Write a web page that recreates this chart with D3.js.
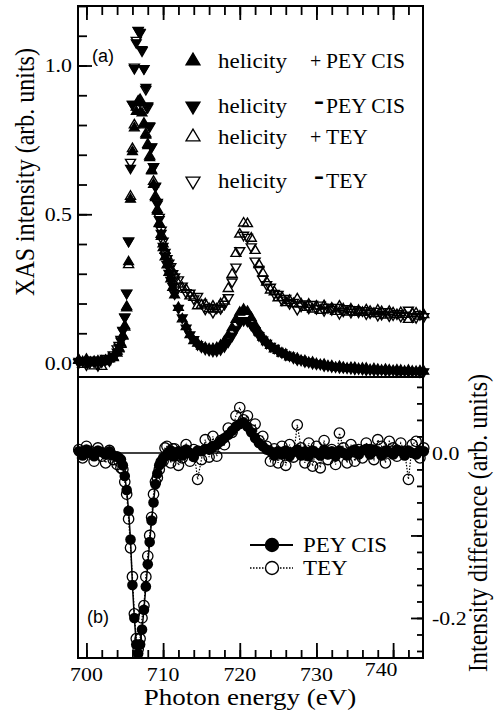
<!DOCTYPE html>
<html>
<head>
<meta charset="utf-8">
<script src="https://cdn.jsdelivr.net/npm/d3@7"></script>
<style>
body { margin: 0; background: #fff; }
</style>
</head>
<body>
<script>
// photon energy grid (eV), shared by all series
var energy = [699, 699.5, 700, 700.5, 701, 701.5, 702, 702.5, 703, 703.5, 704,
  704.25, 704.5, 704.75, 705, 705.25, 705.5, 705.75, 706, 706.25, 706.5, 706.75, 707, 707.25, 707.5, 707.75, 708, 708.25, 708.5, 708.75, 709,
  709.25, 709.5, 709.75, 710, 710.25, 710.5, 710.75, 711, 711.25, 711.5,
  712, 712.5, 713, 713.5, 714,
  714.5, 715, 715.5, 716, 716.5, 717, 717.5, 718, 718.5, 719,
  719.5, 720, 720.5, 721, 721.5, 722, 722.5, 723, 723.5, 724,
  724.5, 725, 725.5, 726, 726.5, 727, 727.5, 728, 728.5, 729,
  729.5, 730, 730.5, 731, 731.5, 732, 732.5, 733, 733.5, 734,
  734.5, 735, 735.5, 736, 736.5, 737, 737.5, 738, 738.5, 739,
  739.5, 740, 740.5, 741, 741.5, 742, 742.5, 743, 743.5, 744];

// (a) XAS, PEY CIS, helicity + / -
var peyPlus = [0.008, 0.004, 0.006, 0.002, 0.005, 0.003, 0.006, 0.009, 0.013, 0.02, 0.033,
  0.047, 0.066, 0.093, 0.125, 0.19, 0.34, 0.55, 0.71, 0.79, 0.845, 0.875, 0.88, 0.84, 0.8, 0.765, 0.73, 0.69, 0.645, 0.6, 0.555,
  0.51, 0.468, 0.425, 0.387, 0.356, 0.329, 0.304, 0.282, 0.254, 0.228,
  0.186, 0.148, 0.122, 0.095, 0.075,
  0.066, 0.056, 0.051, 0.047, 0.048, 0.051, 0.059, 0.073, 0.093, 0.118,
  0.146, 0.17, 0.18, 0.173, 0.152, 0.127, 0.104, 0.086, 0.071, 0.059,
  0.047, 0.042, 0.033, 0.029, 0.020, 0.018, 0.015, 0.008, 0.007, 0.001,
  0.002, -0.003, -0.006, -0.005, -0.01, -0.01, -0.015, -0.012, -0.015, -0.018,
  -0.016, -0.016, -0.02, -0.018, -0.018, -0.023, -0.02, -0.022, -0.025, -0.022,
  -0.024, -0.026, -0.024, -0.025, -0.028, -0.025, -0.028, -0.029, -0.027, -0.028];
var peyMinus = [0.006, 0.007, 0.003, 0.005, 0.008, 0.002, 0.004, 0.011, 0.011, 0.023, 0.037,
  0.053, 0.074, 0.108, 0.153, 0.235, 0.41, 0.655, 0.87, 0.99, 1.077, 1.118, 1.112, 1.054, 0.99, 0.927, 0.865, 0.798, 0.727, 0.66, 0.593,
  0.535, 0.483, 0.436, 0.393, 0.36, 0.331, 0.302, 0.278, 0.258, 0.232,
  0.184, 0.152, 0.118, 0.095, 0.079,
  0.062, 0.054, 0.047, 0.043, 0.040, 0.041, 0.045, 0.055, 0.071, 0.091,
  0.114, 0.135, 0.143, 0.141, 0.127, 0.109, 0.092, 0.078, 0.067, 0.057,
  0.050, 0.040, 0.035, 0.027, 0.024, 0.017, 0.011, 0.010, 0.005, 0.003,
  -0.001, -0.003, -0.004, -0.009, -0.009, -0.012, -0.013, -0.015, -0.015, -0.016,
  -0.018, -0.020, -0.019, -0.021, -0.023, -0.022, -0.024, -0.024, -0.023, -0.025,
  -0.025, -0.024, -0.028, -0.027, -0.026, -0.028, -0.028, -0.027, -0.030, -0.029];

// (a) XAS, TEY, helicity + / -
var teyPlus = [0.01, -0.005, 0.012, 0.0, -0.01, 0.006, -0.012, 0.004, 0.015, 0.018, 0.04,
  0.05, 0.062, 0.09, 0.12, 0.185, 0.33, 0.56, 0.72, 0.8, 0.86, 0.88, 0.885, 0.85, 0.805, 0.77, 0.735, 0.695, 0.648, 0.61, 0.56,
  0.515, 0.47, 0.432, 0.4, 0.378, 0.359, 0.335, 0.312, 0.306, 0.295,
  0.265, 0.253, 0.247, 0.225, 0.22,
  0.192, 0.194, 0.198, 0.182, 0.191, 0.181, 0.198, 0.208, 0.25, 0.298,
  0.368, 0.433, 0.47, 0.468, 0.419, 0.378, 0.33, 0.302, 0.272, 0.245,
  0.239, 0.219, 0.22, 0.203, 0.21, 0.199, 0.215, 0.198, 0.187, 0.197,
  0.181, 0.191, 0.177, 0.192, 0.179, 0.184, 0.173, 0.191, 0.181, 0.171,
  0.181, 0.17, 0.176, 0.17, 0.178, 0.173, 0.166, 0.177, 0.172, 0.161,
  0.173, 0.168, 0.162, 0.169, 0.163, 0.146, 0.166, 0.167, 0.157, 0.162];
var teyMinus = [0.002, 0.008, -0.006, 0.01, 0.004, -0.008, 0.01, 0.016, 0.008, 0.028, 0.048,
  0.06, 0.08, 0.11, 0.155, 0.235, 0.41, 0.675, 0.87, 0.995, 1.085, 1.118, 1.11, 1.05, 0.99, 0.92, 0.86, 0.795, 0.726, 0.66, 0.595,
  0.54, 0.49, 0.447, 0.41, 0.372, 0.351, 0.336, 0.324, 0.301, 0.29,
  0.28, 0.259, 0.237, 0.235, 0.216,
  0.224, 0.202, 0.182, 0.187, 0.171, 0.185, 0.183, 0.198, 0.22, 0.273,
  0.323, 0.378, 0.43, 0.423, 0.391, 0.343, 0.315, 0.282, 0.264, 0.255,
  0.234, 0.231, 0.212, 0.218, 0.2, 0.204, 0.181, 0.192, 0.199, 0.185,
  0.197, 0.183, 0.195, 0.177, 0.187, 0.18, 0.187, 0.167, 0.175, 0.183,
  0.171, 0.18, 0.172, 0.176, 0.166, 0.169, 0.174, 0.161, 0.164, 0.173,
  0.159, 0.162, 0.166, 0.157, 0.161, 0.178, 0.156, 0.153, 0.163, 0.156];

// (b) intensity difference
var peyDiff = [0.002, -0.003, 0.004, 0.0, -0.004, 0.003, 0.001, -0.002, 0.002, -0.003, -0.004,
  -0.006, -0.008, -0.015, -0.028, -0.045, -0.07, -0.105, -0.16, -0.2, -0.232, -0.243, -0.232, -0.214, -0.19, -0.162, -0.135, -0.108, -0.082, -0.06, -0.038,
  -0.025, -0.015, -0.011, -0.006, -0.004, -0.002, 0.001, 0.003, -0.004, -0.004,
  0.002, -0.003, 0.004, 0.0, -0.005,
  0.003, 0.002, 0.005, 0.004, 0.008, 0.01, 0.014, 0.018, 0.022, 0.027,
  0.032, 0.035, 0.037, 0.032, 0.025, 0.018, 0.012, 0.008, 0.004, 0.002,
  -0.003, 0.002, -0.002, 0.003, -0.004, 0.001, 0.004, -0.003, 0.002, -0.004,
  0.003, 0.0, -0.003, 0.004, -0.002, 0.002, -0.004, 0.003, 0.0, -0.003,
  0.002, 0.004, -0.002, 0.003, 0.005, -0.002, 0.004, 0.002, -0.003, 0.003,
  0.001, -0.002, 0.004, 0.002, -0.003, 0.003, 0.0, -0.002, 0.003, 0.002];
var teyDiff = [0.004, -0.006, 0.008, 0.002, -0.01, 0.006, -0.004, -0.012, 0.003, -0.008, -0.014,
  -0.01, -0.018, -0.02, -0.035, -0.05, -0.08, -0.115, -0.15, -0.195, -0.225, -0.238, -0.225, -0.2, -0.185, -0.15, -0.125, -0.1, -0.078, -0.05, -0.035,
  -0.03, -0.02, -0.011, -0.01, 0.006, 0.008, -0.001, -0.012, 0.005, 0.005,
  -0.015, -0.006, 0.01, -0.01, 0.004,
  -0.032, -0.008, 0.016, -0.005, 0.02, -0.004, 0.015, 0.01, 0.03, 0.025,
  0.045, 0.055, 0.04, 0.045, 0.028, 0.035, 0.015, 0.02, 0.008, -0.01,
  0.005, -0.012, 0.008, -0.015, 0.01, -0.005, 0.034, 0.006, -0.012, 0.012,
  -0.016, 0.008, -0.018, 0.015, -0.008, 0.004, -0.014, 0.024, 0.006, -0.012,
  0.01, -0.01, 0.004, -0.006, 0.012, 0.004, -0.008, 0.016, 0.008, -0.012,
  0.014, 0.006, -0.004, 0.012, 0.002, -0.032, 0.01, 0.014, -0.006, 0.006];

// tick labels
var xTicks = [700, 710, 720, 730, 740];
var topTicks = [0.0, 0.5, 1.0];
var botTicks = [0.0, -0.2];
var legendTop = ['PEY CIS', 'PEY CIS', 'TEY', 'TEY'];
var legendSigns = ['+', '-', '+', '-'];
var legendBot = ['PEY CIS', 'TEY'];

var serif = 'Liberation Serif';
var sans = 'Liberation Sans';

var svg = d3.select('body').append('svg').attr('width', 495).attr('height', 712)
  .attr('font-family', serif);

var x = d3.scaleLinear().domain([698.9, 743.9]).range([78, 423]);
var yTop = d3.scaleLinear().domain([-0.047, 1.2]).range([377, 6]);
var yBot = d3.scaleLinear().domain([-0.2485, 0.092]).range([658, 377]);

// triangle path, up or down
function tri(s, up) {
  var h = s * 0.85;
  var a = up ? -h * 2 / 3 : h * 2 / 3, b = up ? h / 3 : -h / 3;
  return 'M0,' + a + 'L' + (s / 2) + ',' + b + 'L' + (-s / 2) + ',' + b + 'Z';
}

// ---- panel (a) points ----
var topSeries = [
  {vals: teyPlus, up: true, filled: false},
  {vals: teyMinus, up: false, filled: false},
  {vals: peyPlus, up: true, filled: true},
  {vals: peyMinus, up: false, filled: true}
];
topSeries.forEach(function(s) {
  svg.append('g').selectAll('path').data(s.vals).enter().append('path')
    .attr('transform', function(d, i) { return 'translate(' + x(energy[i]) + ',' + yTop(d) + ')'; })
    .attr('d', tri(10, s.up))
    .attr('fill', s.filled ? '#000' : 'none')
    .attr('stroke', '#000').attr('stroke-width', s.filled ? 1.2 : 1.4);
});

// ---- panel (b) ----
svg.append('line').attr('x1', 78).attr('x2', 423).attr('y1', yBot(0)).attr('y2', yBot(0))
  .attr('stroke', '#000').attr('stroke-width', 1.5);

var line = d3.line().x(function(d, i) { return x(energy[i]); }).y(function(d) { return yBot(d); });

svg.append('path').datum(teyDiff).attr('d', line).attr('fill', 'none')
  .attr('stroke', '#000').attr('stroke-width', 1.2).attr('stroke-dasharray', '1.5,1.5');
svg.append('g').selectAll('circle').data(teyDiff).enter().append('circle')
  .attr('cx', function(d, i) { return x(energy[i]); })
  .attr('cy', function(d) { return yBot(d); })
  .attr('r', 5.2).attr('fill', 'none').attr('stroke', '#000').attr('stroke-width', 1.3);

svg.append('path').datum(peyDiff).attr('d', line).attr('fill', 'none')
  .attr('stroke', '#000').attr('stroke-width', 1.5);
svg.append('g').selectAll('circle').data(peyDiff).enter().append('circle')
  .attr('cx', function(d, i) { return x(energy[i]); })
  .attr('cy', function(d) { return yBot(d); })
  .attr('r', 5.3).attr('fill', '#000');

// ---- frame ----
svg.append('rect').attr('x', 78).attr('y', 6).attr('width', 345).attr('height', 652)
  .attr('fill', 'none').attr('stroke', '#000').attr('stroke-width', 2);
svg.append('line').attr('x1', 78).attr('x2', 423).attr('y1', 377).attr('y2', 377)
  .attr('stroke', '#000').attr('stroke-width', 2);

// ---- ticks (inward) ----
function ticks(axisFn, scale, vals, size, tx, ty) {
  var g = svg.append('g').attr('transform', 'translate(' + tx + ',' + ty + ')')
    .call(axisFn(scale).tickValues(vals).tickSize(size).tickFormat(''));
  g.select('.domain').remove();
  g.selectAll('line').attr('stroke', '#000').attr('stroke-width', 1.8);
}
ticks(d3.axisBottom, x, x.ticks(22), 9, 0, 6);
ticks(d3.axisBottom, x, xTicks, 14, 0, 6);
ticks(d3.axisTop, x, x.ticks(22), 8, 0, 658);
ticks(d3.axisTop, x, xTicks, 15, 0, 658);
ticks(d3.axisRight, yTop, yTop.ticks(12), 9, 78, 0);
ticks(d3.axisRight, yTop, topTicks, 14, 78, 0);
ticks(d3.axisLeft, yBot, yBot.ticks(17), 6, 423, 0);
ticks(d3.axisLeft, yBot, [0, -0.1, -0.2], 12, 423, 0);

// ---- text ----
function label(txt, px, py, size, anchor, sx) {
  return svg.append('text')
    .attr('transform', 'translate(' + px + ',' + py + ') scale(' + sx + ',1)')
    .attr('text-anchor', anchor).attr('font-size', size)
    .attr('font-family', serif).attr('fill', '#000').text(txt);
}
xTicks.forEach(function(d) {
  label(d, x(d) + (d === 740 ? -12 : 0), d === 740 ? 676 : 681, 19, 'middle', 1.15);
});
topTicks.forEach(function(d) { label(d.toFixed(1), 72, yTop(d) + 6.5, 19, 'end', 1.15); });
botTicks.forEach(function(d) { label(d.toFixed(1), 432, yBot(d) + 7, 19, 'start', 1.15); });

label('Photon energy (eV)', 250, 705, 22.5, 'middle', 1.2);
svg.append('text').attr('transform', 'translate(34,172) rotate(-90) scale(1,1.12)')
  .attr('text-anchor', 'middle').attr('font-size', 24).attr('font-family', serif)
  .text('XAS intensity (arb. units)');
svg.append('text').attr('transform', 'translate(487,523) rotate(-90) scale(1,1.1)')
  .attr('text-anchor', 'middle').attr('font-size', 24).attr('font-family', serif)
  .text('Intensity difference (arb. units)');

svg.append('text').attr('x', 92).attr('y', 62).attr('font-size', 18)
  .attr('font-family', sans).text('(a)');
svg.append('text').attr('x', 87).attr('y', 623).attr('font-size', 18)
  .attr('font-family', sans).text('(b)');

// legend (a)
var rowY = [61, 106, 137, 181];
legendTop.forEach(function(name, i) {
  var up = i % 2 === 0, filled = i < 2, base = rowY[i] + 6.5;
  svg.append('path').attr('transform', 'translate(193,' + rowY[i] + ')')
    .attr('d', tri(14, up)).attr('fill', filled ? '#000' : '#fff')
    .attr('stroke', '#000').attr('stroke-width', 1.3);
  label('helicity', 218, base, 20, 'start', 1.15);
  if (legendSigns[i] === '+') {
    label('+', 310, base, 20, 'start', 1.0);
  } else {
    label('-', 314, base - 3, 30, 'start', 1.0).attr('font-weight', 'bold');
  }
  label(name, 326, base, 20, 'start', 1.08);
});

// legend (b)
var legY = [545, 568];
legendBot.forEach(function(name, i) {
  svg.append('line').attr('x1', 250).attr('x2', 293).attr('y1', legY[i]).attr('y2', legY[i])
    .attr('stroke', '#000').attr('stroke-width', i === 0 ? 1.8 : 1.3)
    .attr('stroke-dasharray', i === 0 ? null : '1.5,1.5');
  svg.append('circle').attr('cx', 272).attr('cy', legY[i]).attr('r', 6.5)
    .attr('fill', i === 0 ? '#000' : '#fff').attr('stroke', '#000').attr('stroke-width', 1.4);
  label(name, 303, legY[i] + 6.5, 20, 'start', 1.15);
});
</script>
</body>
</html>
